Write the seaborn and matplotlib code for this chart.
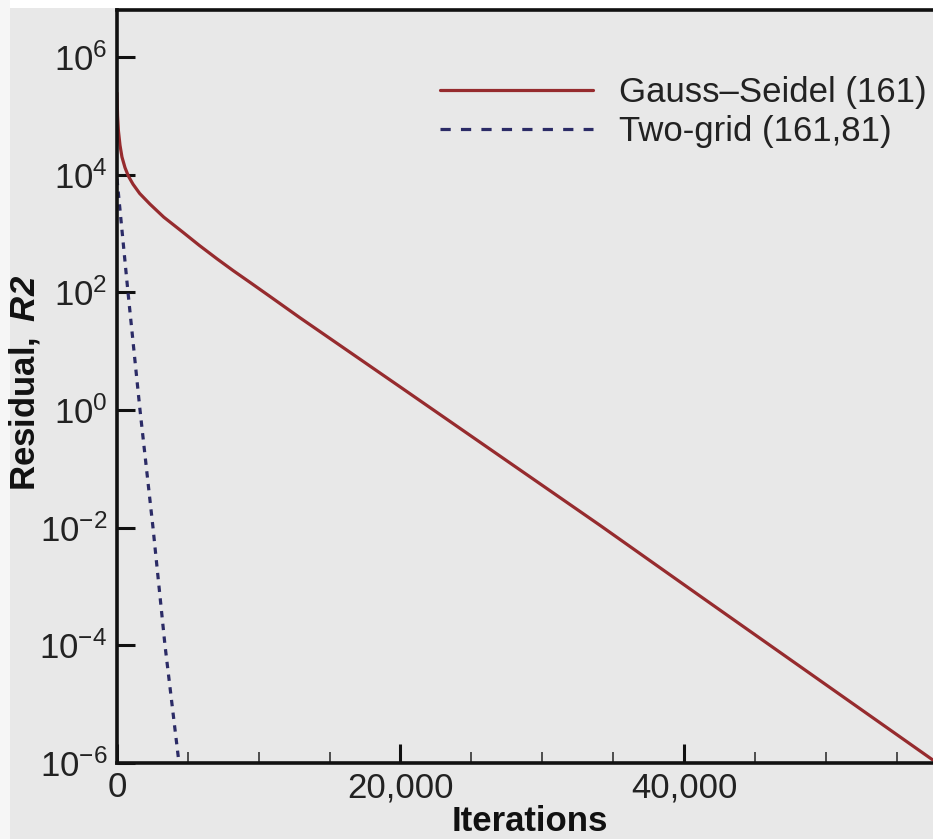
import numpy as np
import pandas as pd
import matplotlib
matplotlib.use("Agg")
import matplotlib.pyplot as plt
import matplotlib.ticker as mticker
from matplotlib.patches import Rectangle
import seaborn as sns

# ---------------- data ----------------
gs_label = "Gauss\u2013Seidel (161)"
tg_label = "Two-grid (161,81)"

gs_iterations = [0, 40, 100, 212, 350, 564, 800, 1129, 1600, 2328, 3300, 4656, 5800,
                 7055, 8200, 9383, 10800, 12910, 20000, 34070, 41130, 57570]
gs_residual = [2.45e5, 1.0e5, 5.6e4, 3.16e4, 2.0e4, 1.32e4, 9.5e3, 6.9e3, 4.8e3, 3.16e3,
               1.9e3, 1.05e3, 631, 372, 234, 148, 85, 37, 2.45, 1.1e-2, 6.9e-4, 1.12e-6]

tg_iterations = [0, 776, 1623, 2540, 3386, 4374]
tg_residual = [8.5e3, 1.0e2, 1.0, 1.0e-2, 1.0e-4, 1.0e-6]

y_tick_values = [1e-6, 1e-4, 1e-2, 1e0, 1e2, 1e4, 1e6]
y_tick_labels = ["$10^{-6}$", "$10^{-4}$", "$10^{-2}$", "$10^{0}$", "$10^{2}$", "$10^{4}$", "$10^{6}$"]
x_tick_values = [0, 20000, 40000]

# ---------------- styling ----------------
sns.set_theme(style="white")
bg = "#e8e8e8"
plt.rcParams["font.family"] = ["Liberation Sans", "DejaVu Sans"]
plt.rcParams["mathtext.fontset"] = "custom"
plt.rcParams["mathtext.rm"] = "Liberation Sans"
plt.rcParams["mathtext.it"] = "Liberation Sans:italic"
plt.rcParams["mathtext.bf"] = "Liberation Sans:bold"
plt.rcParams["mathtext.bfit"] = "Liberation Sans:bold:italic"
plt.rcParams["mathtext.default"] = "regular"

df = pd.concat([
    pd.DataFrame({"Iterations": gs_iterations, "Residual": gs_residual, "Method": gs_label}),
    pd.DataFrame({"Iterations": tg_iterations, "Residual": tg_residual, "Method": tg_label}),
], ignore_index=True)

W, H = 933, 839
fig = plt.figure(figsize=(W / 100, H / 100), dpi=100, facecolor=bg)
# white margins at top and left of the scanned figure
fig.add_artist(Rectangle((0, 1 - 8 / H), 1, 8 / H, transform=fig.transFigure,
                         facecolor="white", edgecolor="none", zorder=-5))
fig.add_artist(Rectangle((0, 0), 10 / W, 1, transform=fig.transFigure,
                         facecolor="#f6f6f6", edgecolor="none", zorder=-5))

ax = fig.add_axes([117 / W, 76 / H, (W - 117) / W, (763 - 10) / H])
ax.set_facecolor(bg)

palette = {gs_label: "#962b2e", tg_label: "#2b2b66"}
dashes = {gs_label: "", tg_label: (2, 2)}
sns.lineplot(data=df, x="Iterations", y="Residual", hue="Method", style="Method",
             palette=palette, dashes=dashes, linewidth=2.3, ax=ax, legend=True,
             estimator=None, sort=False)

ax.set_yscale("log")
ax.set_xlim(0, 57570)
ax.set_ylim(1e-6, 10 ** 6.8)

ax.yaxis.set_major_locator(mticker.FixedLocator(y_tick_values))
ax.set_yticklabels(y_tick_labels)
ax.yaxis.set_minor_locator(mticker.NullLocator())
ax.xaxis.set_major_locator(mticker.FixedLocator(x_tick_values))
ax.xaxis.set_major_formatter(mticker.StrMethodFormatter("{x:,.0f}"))
ax.xaxis.set_minor_locator(mticker.MultipleLocator(5000))

ax.tick_params(axis="y", which="major", direction="in", length=13, width=2.2,
               color="#111111", labelsize=25, labelcolor="#222222", pad=7, left=True)
ax.tick_params(axis="x", which="major", direction="in", length=14, width=2.2,
               color="#111111", labelsize=25, labelcolor="#222222", pad=6, bottom=True)
ax.tick_params(axis="x", which="minor", direction="in", length=8, width=1.2,
               color="#333333", bottom=True)

for s in ["left", "bottom", "top"]:
    ax.spines[s].set_visible(True)
    ax.spines[s].set_color("#111111")
    ax.spines[s].set_linewidth(2.6)
ax.spines["right"].set_visible(False)

ax.set_xlabel("Iterations", fontsize=25, fontweight="bold", color="#111111")
ax.xaxis.set_label_coords(0.506, -0.056)
ax.set_ylabel(r"$\mathbf{Residual,}\ \mathbfit{R2}$", fontsize=25, color="#111111")
ax.yaxis.set_label_coords(-0.092, 0.505)

leg = ax.legend(loc="upper left", bbox_to_anchor=(440 / W, 1 - 76 / H),
                bbox_transform=fig.transFigure, frameon=False, fontsize=25,
                borderpad=0, borderaxespad=0, handlelength=4.4, handletextpad=0.75,
                labelspacing=0.17, title=None)
for t in leg.get_texts():
    t.set_color("#222222")
leg_lines = leg.get_lines()
leg_lines[0].set_linewidth(2.3)
leg_lines[1].set_linewidth(2.3)
leg_lines[1].set_dashes([3.2, 3.2])

fig.savefig("out.png", dpi=100, facecolor=bg)
